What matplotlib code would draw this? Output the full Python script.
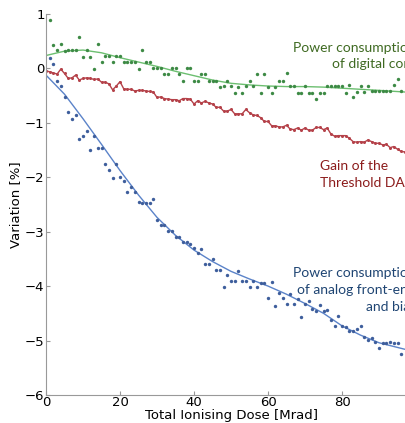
import numpy as np
import matplotlib
matplotlib.use('Agg')
import matplotlib.pyplot as plt

# digital core power (green scatter), 1..96 Mrad
dose_digital = list(range(1, 97))
digital = [0.89, 0.43, 0.34, 0.45, 0.32, 0.34, 0.34, 0.34, 0.57, 0.21,
           0.34, 0.21, -0.02, 0.45, 0.11, 0.22, 0.22, 0.11, 0.22, 0.22,
           0.11, 0.11, 0.11, 0.11, -0.01, 0.34, 0.11, 0.11, 0.0, 0.0,
           0.0, -0.11, -0.11, 0.0, 0.0, -0.11, -0.23, 0.0, 0.0, -0.23,
           -0.23, -0.11, -0.11, -0.23, -0.23, -0.23, -0.34, -0.33, -0.23, -0.33,
           -0.45, -0.34, -0.45, -0.33, -0.23, -0.33, -0.11, -0.45, -0.11, -0.34,
           -0.45, -0.34, -0.23, -0.23, -0.1, -0.33, -0.33, -0.45, -0.45, -0.33,
           -0.45, -0.45, -0.56, -0.45, -0.45, -0.33, -0.33, -0.33, -0.33, -0.33,
           -0.45, -0.32, -0.54, -0.44, -0.33, -0.44, -0.33, -0.43, -0.43, -0.43,
           -0.43, -0.43, -0.43, -0.31, -0.2, -0.43]
fit_dose = [0, 5, 10, 15, 20, 25, 30, 35, 40, 45, 50, 55, 60, 65, 70, 75, 80, 85, 90, 97]
digital_fit = [0.23, 0.31, 0.33, 0.28, 0.19, 0.11, 0.03, -0.06, -0.14, -0.22,
               -0.28, -0.31, -0.33, -0.34, -0.34, -0.35, -0.37, -0.39, -0.41, -0.44]

# threshold DAC gain (red line with markers), 0..97 Mrad
dose_dac = list(range(0, 98))
dac = [-0.05, -0.07, -0.09, -0.11, -0.02, -0.1, -0.19, -0.18, -0.13, -0.22,
       -0.19, -0.18, -0.19, -0.21, -0.2, -0.26, -0.26, -0.29, -0.4, -0.33,
       -0.25, -0.38, -0.39, -0.39, -0.42, -0.41, -0.41, -0.42, -0.43, -0.44,
       -0.54, -0.53, -0.56, -0.57, -0.58, -0.58, -0.6, -0.56, -0.56, -0.57,
       -0.66, -0.6, -0.64, -0.61, -0.64, -0.66, -0.72, -0.72, -0.79, -0.79,
       -0.76, -0.84, -0.84, -0.84, -0.76, -0.82, -0.86, -0.87, -0.91, -0.98,
       -0.98, -1.06, -1.06, -1.08, -1.08, -1.05, -1.12, -1.13, -1.1, -1.14,
       -1.1, -1.14, -1.14, -1.09, -1.09, -1.13, -1.1, -1.21, -1.25, -1.24,
       -1.24, -1.24, -1.29, -1.35, -1.36, -1.35, -1.36, -1.32, -1.35, -1.38,
       -1.38, -1.41, -1.4, -1.46, -1.44, -1.49, -1.53, -1.54]

# analog front-end power (blue scatter), 1..96 Mrad
dose_analog = list(range(1, 97))
analog = [0.18, 0.08, -0.23, -0.33, -0.54, -0.8, -0.94, -0.86, -1.31, -1.25,
          -1.15, -1.51, -1.25, -1.46, -1.47, -1.76, -1.87, -2.02, -1.76, -1.99,
          -2.07, -2.28, -2.19, -2.28, -2.46, -2.47, -2.47, -2.47, -2.4, -2.79,
          -2.88, -2.88, -2.99, -2.99, -3.1, -3.1, -3.19, -3.19, -3.22, -3.3,
          -3.4, -3.32, -3.6, -3.6, -3.5, -3.71, -3.71, -4.01, -3.8, -3.91,
          -3.91, -3.72, -3.91, -3.91, -4.01, -3.91, -4.01, -3.94, -3.94, -4.22,
          -3.93, -4.37, -4.12, -4.21, -4.32, -4.15, -4.32, -4.24, -4.57, -4.32,
          -4.27, -4.42, -4.45, -4.35, -4.45, -4.43, -4.63, -4.73, -4.55, -4.73,
          -4.76, -4.83, -4.83, -4.79, -4.73, -4.93, -4.99, -4.95, -5.02, -5.13,
          -5.05, -5.05, -5.02, -5.05, -5.05, -5.25]
analog_fit = [-0.13, -0.48, -0.93, -1.4, -1.88, -2.33, -2.74, -3.07, -3.34, -3.55,
              -3.73, -3.87, -4.0, -4.15, -4.32, -4.5, -4.73, -4.9, -5.04, -5.16]

green_pt, green_ln, green_txt = '#3d8a45', '#6cbf70', '#3f6a22'
red_c, red_txt = '#b5424a', '#8c1c1c'
blue_pt, blue_ln, blue_txt = '#3e5e9c', '#5b83c9', '#1f4573'

fig = plt.figure(figsize=(4.05, 4.23), dpi=100)
ax = fig.add_axes([0.1136, 0.066, 0.9136, 0.902])

ax.plot(fit_dose, digital_fit, color=green_ln, lw=1.0)
ax.scatter(dose_digital, digital, s=6, color=green_pt, zorder=3, linewidths=0)
ax.plot(dose_dac, dac, color=red_c, lw=1.0, marker='o', ms=2.2, mew=0)
ax.plot(fit_dose, analog_fit, color=blue_ln, lw=1.0)
ax.scatter(dose_analog, analog, s=6, color=blue_pt, zorder=3, linewidths=0)

# labels run past the right edge, as in the cropped original
fam = ['Lato', 'DejaVu Sans']
ax.text(100, 0.22, 'Power consumption\nof digital core', color=green_txt, va='center',
        family=fam, fontsize=10, ha='right', multialignment='right', linespacing=1.4)
ax.text(74, -1.95, 'Gain of the\nThreshold DAC', color=red_txt, va='center',
        family=fam, fontsize=10, ha='left', multialignment='left', linespacing=1.55)
ax.text(100, -4.07, 'Power consumption\nof analog front-end\nand bias', color=blue_txt, va='center',
        family=fam, fontsize=10, ha='right', multialignment='right', linespacing=1.5)

ax.set_xlim(0, 100)
ax.set_ylim(-6, 1)
ax.set_xticks([0, 20, 40, 60, 80])
ax.set_yticks(range(-6, 2))
ax.spines['top'].set_visible(False)
ax.spines['right'].set_visible(False)
for s in ('left', 'bottom'):
    ax.spines[s].set_color('#999999')
ax.tick_params(direction='in', length=3, color='#999999', labelsize=9.5, pad=1)
ax.set_xlabel('Total Ionising Dose [Mrad]', fontsize=9.5, labelpad=0)
ax.set_ylabel('Variation [%]', fontsize=9.5, labelpad=2)

plt.savefig('out.png', dpi=100)
